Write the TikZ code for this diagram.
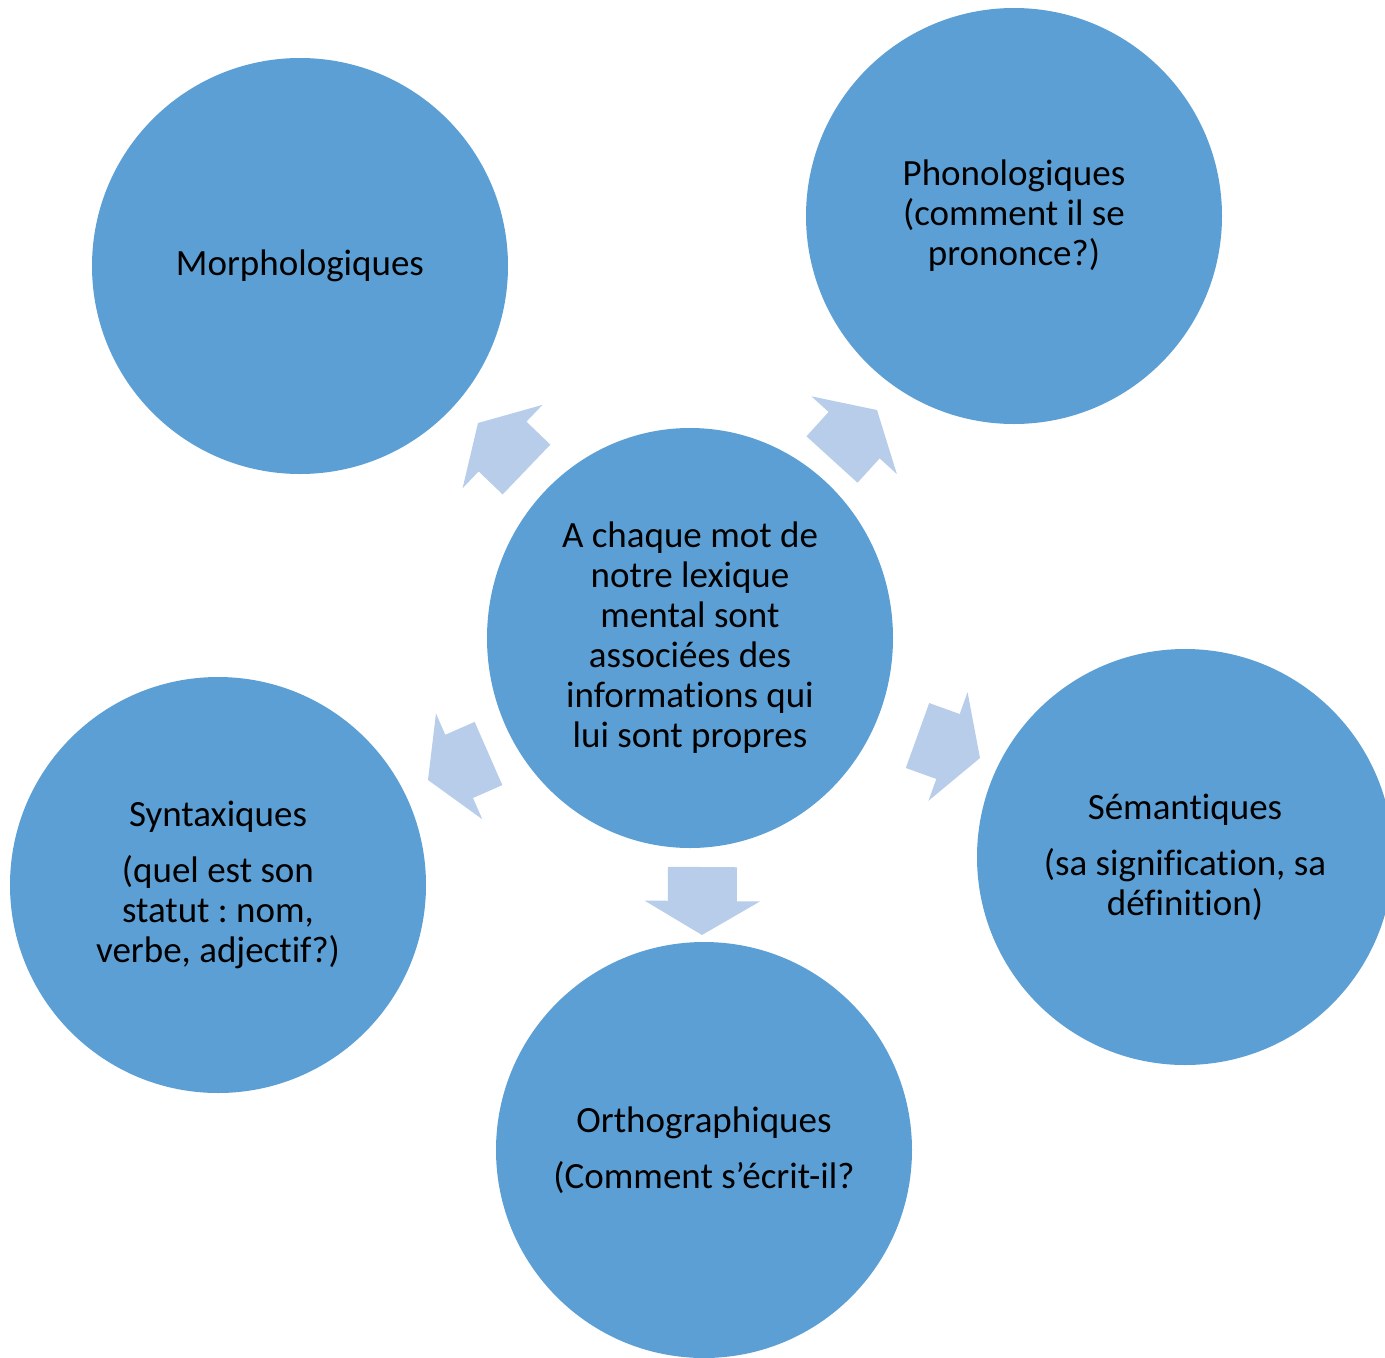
\documentclass[tikz,border=0pt]{standalone}
\usepackage{fontspec}
\setmainfont{Carlito}[Ligatures={NoCommon,NoRequired,NoContextual},Contextuals=NoAlternate]
\usetikzlibrary{shapes.geometric,arrows.meta}
\definecolor{circblue}{RGB}{91,159,213}
\definecolor{arrblue}{RGB}{183,205,234}
\tikzset{
  bubble/.style={circle,fill=circblue,minimum size=416pt,inner sep=0pt,align=center,
    text=black,font=\fontsize{37}{40}\selectfont\frenchspacing,
    execute at begin node={\vspace*{4pt}}},
  hub/.style={ellipse,fill=circblue,minimum width=406pt,minimum height=420pt,inner sep=0pt,
    align=center,text=black,font=\fontsize{37}{40}\selectfont\frenchspacing,
    execute at begin node={\vspace*{4pt}}},
  blockarrow/.style={draw=arrblue,line width=69pt,
    -{Triangle[length=34pt,width=114pt]}}
}
\begin{document}
\begin{tikzpicture}[x=1pt,y=-1pt]
\useasboundingbox (0,0) rectangle (1385,1358);
\clip (0,0) rectangle (1385,1358);
\node[hub] (c) at (690,638) {A chaque mot de\\notre lexique\\mental sont\\associées des\\informations qui\\lui sont propres};
\node[bubble] (m) at (300,266) {Morphologiques};
\node[bubble] (p) at (1014,216) {Phonologiques\\(comment il se\\prononce?)};
\node[bubble] (s) at (1185,857) {Sémantiques\\[16pt](sa signification, sa\\définition)};
\node[bubble] (o) at (704,1150) {Orthographiques\\[16pt](Comment s’écrit-il?};
\node[bubble] (y) at (218,885) {Syntaxiques\\[16pt](quel est son\\statut : nom,\\verbe, adjectif?)};
\coordinate (am0) at (526.5,469.5); \coordinate (am1) at (478,423);
\coordinate (ap0) at (832,459.5);   \coordinate (ap1) at (877,410);
\coordinate (as0) at (917.5,735.5); \coordinate (as1) at (980,758);
\coordinate (ay0) at (488.5,753.5); \coordinate (ay1) at (428,780);
\coordinate (ao0) at (702.5,867);   \coordinate (ao1) at (702,935);
\draw[blockarrow] (am0) -- (am1);
\draw[blockarrow] (ap0) -- (ap1);
\draw[blockarrow] (as0) -- (as1);
\draw[blockarrow] (ay0) -- (ay1);
\draw[blockarrow] (ao0) -- (ao1);
\end{tikzpicture}
\end{document}
